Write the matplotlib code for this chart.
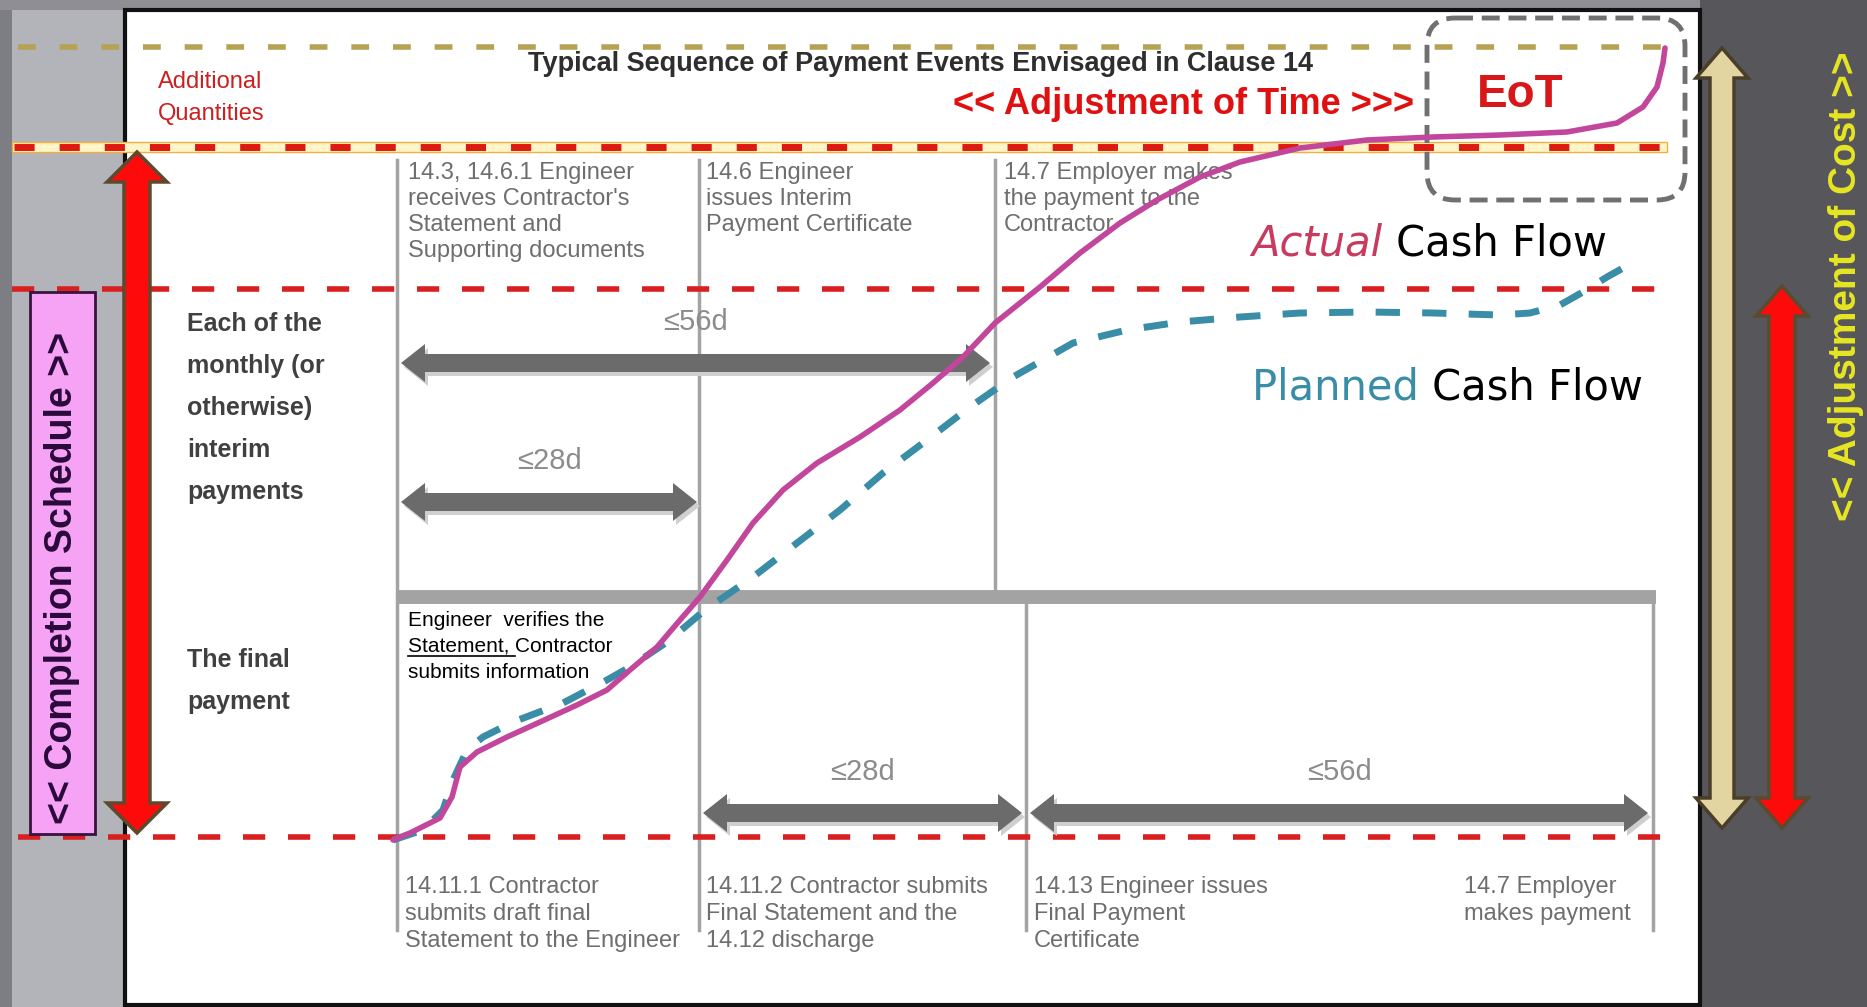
import matplotlib
matplotlib.use("Agg")
import matplotlib.pyplot as plt
from matplotlib.patches import Rectangle, Polygon, FancyBboxPatch

W, H = 1867, 1007

# cash flow curves (pixel coords, y grows downwards)
actual_x = [393, 410, 440, 452, 460, 477, 507, 540, 577, 607, 630, 657, 680, 700, 727, 753,
            783, 817, 860, 900, 933, 963, 995, 1040, 1080, 1120, 1157, 1200, 1240, 1300,
            1367, 1433, 1500, 1567, 1617, 1643, 1657, 1663, 1665]
actual_y = [840, 833, 818, 797, 767, 752, 737, 722, 705, 690, 670, 647, 620, 597, 560, 523,
            490, 463, 437, 410, 383, 357, 323, 287, 253, 223, 200, 177, 162, 148,
            140, 137, 135, 132, 123, 107, 87, 63, 48]
planned_x = [393, 423, 443, 453, 467, 483, 513, 563, 607, 630, 667, 705, 753, 797, 840, 883,
             927, 970, 1013, 1073, 1127, 1180, 1240, 1300, 1367, 1433, 1500, 1530, 1560,
             1583, 1607, 1632]
planned_y = [840, 830, 810, 780, 750, 737, 722, 703, 680, 667, 642, 610, 577, 543, 510, 473,
             440, 407, 377, 343, 330, 322, 317, 313, 312, 313, 315, 313, 305,
             292, 277, 263]

title = "Typical Sequence of Payment Events Envisaged in Clause 14"
row_labels = [["Each of the", "monthly (or", "otherwise)", "interim", "payments"],
              ["The final", "payment"]]
top_notes = [["14.3, 14.6.1 Engineer", "receives Contractor's", "Statement and", "Supporting documents"],
             ["14.6 Engineer", "issues Interim", "Payment Certificate"],
             ["14.7 Employer makes", "the payment to the", "Contractor"]]
bottom_notes = [["14.11.1 Contractor", "submits draft final", "Statement to the Engineer"],
                ["14.11.2 Contractor submits", "Final Statement and the", "14.12 discharge"],
                ["14.13 Engineer issues", "Final Payment", "Certificate"],
                ["14.7 Employer", "makes payment"]]
span_labels = ["\u226456d", "\u226428d", "\u226428d", "\u226456d"]
span_x0 = [401, 401, 703, 1030]
span_x1 = [990, 697, 1022, 1648]
span_y = [363, 502, 813, 813]

SANS = ["Liberation Sans", "DejaVu Sans"]
GRAY_TXT = "#6e6e6e"

fig = plt.figure(figsize=(W / 100, H / 100), dpi=100)
fig.patch.set_facecolor("#57565b")
ax = fig.add_axes([0, 0, 1, 1])
ax.set_xlim(0, W)
ax.set_ylim(H, 0)
ax.axis("off")

# slide background + white panel
ax.add_patch(Rectangle((0, 0), 12, H, fc="#7d7d84", ec="none"))
ax.add_patch(Rectangle((12, 0), 113, H, fc="#b3b3ba", ec="none"))
ax.add_patch(Rectangle((0, 0), 1700, 10, fc="#8e8e94", ec="none"))
ax.add_patch(Rectangle((125, 10), 1575, 995, fc="white", ec="#111111", lw=3))


def h_arrow(x0, x1, y, shaft=18, hw=38, hl=24, color="#6b6b6b"):
    pts = [(x0, y), (x0 + hl, y - hw / 2), (x0 + hl, y - shaft / 2), (x1 - hl, y - shaft / 2),
           (x1 - hl, y - hw / 2), (x1, y), (x1 - hl, y + hw / 2), (x1 - hl, y + shaft / 2),
           (x0 + hl, y + shaft / 2), (x0 + hl, y + hw / 2)]
    sh = [(px + 3, py + 4) for px, py in pts]
    ax.add_patch(Polygon(sh, closed=True, fc="#cfcfcf", ec="none", zorder=3))
    ax.add_patch(Polygon(pts, closed=True, fc=color, ec="none", zorder=3))


def v_arrow(x, y0, y1, shaft, hw, hl, fc, ec):
    pts = [(x, y0), (x + hw / 2, y0 + hl), (x + shaft / 2, y0 + hl), (x + shaft / 2, y1 - hl),
           (x + hw / 2, y1 - hl), (x, y1), (x - hw / 2, y1 - hl), (x - shaft / 2, y1 - hl),
           (x - shaft / 2, y0 + hl), (x - hw / 2, y0 + hl)]
    ax.add_patch(Polygon(pts, closed=True, fc=fc, ec=ec, lw=2.5, joinstyle="miter", zorder=4))


# table frame
LINE = "#a3a3a3"
ax.plot([397, 397], [160, 930], color=LINE, lw=2.5, zorder=2)
ax.plot([699, 699], [160, 930], color=LINE, lw=2.5, zorder=2)
ax.plot([995, 995], [160, 597], color=LINE, lw=2.5, zorder=2)
ax.plot([1026, 1026], [597, 930], color=LINE, lw=2.5, zorder=2)
ax.plot([1653, 1653], [597, 930], color=LINE, lw=2.5, zorder=2)
ax.plot([397, 1656], [597, 597], color=LINE, lw=10, solid_capstyle="butt", zorder=2)

for lab, x0, x1, y in zip(span_labels, span_x0, span_x1, span_y):
    h_arrow(x0, x1, y)
    ax.text((x0 + x1) / 2, y - 41, lab, ha="center", va="center", fontsize=21,
            color="#8c8c8c", family=SANS, zorder=3)

# dashed guide lines
ax.plot([18, 1665], [47, 47], color="#b5a255", lw=4, dashes=(3.2, 4.3), zorder=2)
ax.add_patch(Rectangle((12, 142), 1655, 10, fc="#fff5c8", ec="#f0b040", lw=1, zorder=2))
ax.plot([14, 1665], [147, 147], color="#dd1a10", lw=5, dashes=(2.9, 3.6), zorder=2)
ax.plot([12, 1655], [289, 289], color="#d91f1f", lw=4, dashes=(4, 4.1), zorder=2)
ax.plot([18, 1660], [837, 837], color="#d91f1f", lw=4, dashes=(4, 4.1), zorder=2)

# EoT box
ax.add_patch(FancyBboxPatch((1427, 18), 258, 182, boxstyle="round,pad=0,rounding_size=28",
                            fc="none", ec="#707070", lw=3.5, linestyle=(0, (3.7, 1.8)), zorder=3))

# curves
ax.plot(planned_x, planned_y, color="#3a8da6", lw=5, dashes=(3.5, 3.2), zorder=5)
ax.plot(actual_x, actual_y, color="#c2469b", lw=4, solid_joinstyle="round",
        solid_capstyle="round", zorder=6)

# texts
ax.text(921, 64, title, ha="center", va="center", fontsize=19.5, fontweight="bold",
        color="#2e2e2e", family=SANS)
ax.text(158, 82, "Additional", ha="left", va="center", fontsize=17, color="#cc2020", family=SANS)
ax.text(158, 114, "Quantities", ha="left", va="center", fontsize=17, color="#cc2020", family=SANS)
ax.text(1414, 105, "<< Adjustment of Time >>>", ha="right", va="center", fontsize=26,
        fontweight="bold", color="#e01010", family=SANS)
ax.text(1520, 95, "EoT", ha="center", va="center", fontsize=33, fontweight="bold",
        color="#d81818", family=SANS)

cash1 = ax.text(1607, 244, "Cash Flow", ha="right", va="center", fontsize=30,
                color="black", family="DejaVu Sans", zorder=7)
ax.annotate("Actual ", xy=(0, 0.5), xycoords=cash1, ha="right", va="center", fontsize=30,
            style="italic", color="#c83a5e", family="DejaVu Sans", zorder=7)
cash2 = ax.text(1643, 387, "Cash Flow", ha="right", va="center", fontsize=30,
                color="black", family="DejaVu Sans", zorder=7)
ax.annotate("Planned ", xy=(0, 0.5), xycoords=cash2, ha="right", va="center", fontsize=30,
            color="#3a8da6", family="DejaVu Sans", zorder=7)

for lines, x in zip(top_notes, [408, 706, 1004]):
    for i, s in enumerate(lines):
        ax.text(x, 173 + 26 * i, s, ha="left", va="center", fontsize=17, color=GRAY_TXT,
                family=SANS, zorder=3)

for lines, x in zip(bottom_notes, [405, 706, 1034, 1464]):
    for i, s in enumerate(lines):
        ax.text(x, 887 + 27 * i, s, ha="left", va="center", fontsize=17, color=GRAY_TXT,
                family=SANS, zorder=3)

for i, s in enumerate(row_labels[0]):
    ax.text(187, 324 + 42 * i, s, ha="left", va="center", fontsize=18, fontweight="bold",
            color="#404040", family=SANS)
for i, s in enumerate(row_labels[1]):
    ax.text(187, 660 + 42 * i, s, ha="left", va="center", fontsize=18, fontweight="bold",
            color="#404040", family=SANS)

ax.text(408, 620, "Engineer  verifies the", ha="left", va="center", fontsize=15,
        color="black", family=SANS, zorder=4)
stmt = ax.text(408, 646, "Statement, ", ha="left", va="center", fontsize=15,
               color="black", family=SANS, zorder=4)
ax.annotate("Contractor", xy=(1, 0.5), xycoords=stmt, ha="left", va="center", fontsize=15,
            color="black", family=SANS, zorder=4)
ax.text(408, 672, "submits information", ha="left", va="center", fontsize=15,
        color="black", family=SANS, zorder=4)

# left: completion schedule
ax.add_patch(Rectangle((30, 292), 65, 542, fc="#f6a3f6", ec="#3a1240", lw=2, zorder=3))
ax.text(62, 578, "<< Completion Schedule >>", rotation=90, ha="center", va="center",
        fontsize=27, fontweight="bold", color="#2a0a3a", family=SANS, zorder=4)
v_arrow(137, 152, 833, 26, 60, 30, "#ff0a0a", "#5b4a2e")

# right: adjustment of cost
v_arrow(1722, 48, 828, 24, 52, 30, "#e2d5a2", "#4a3e28")
v_arrow(1782, 286, 828, 26, 52, 30, "#ff0a0a", "#5b4a2e")
ax.text(1846, 286, "<< Adjustment of Cost >>", rotation=90, ha="center", va="center",
        fontsize=28, fontweight="bold", color="#e6e622", family=SANS)

# underline "Statement,"
fig.canvas.draw()
bb = stmt.get_window_extent(fig.canvas.get_renderer()).transformed(ax.transData.inverted())
ax.plot([bb.x0, bb.x1], [656, 656], color="black", lw=1.2, zorder=4)

fig.savefig("out.png", dpi=100, facecolor=fig.get_facecolor())
